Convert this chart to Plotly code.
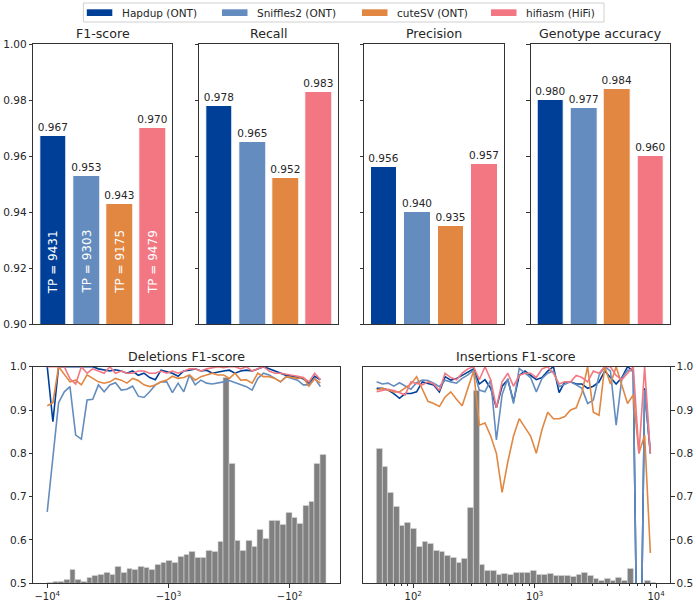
import plotly.graph_objects as go
import numpy as np

# ---- data ----
tools = ['Hapdup (ONT)', 'Sniffles2 (ONT)', 'cuteSV (ONT)', 'hifiasm (HiFi)']
colors = ['#003f98', '#648cbe', '#e18741', '#f27782']

f1_score = [0.967, 0.953, 0.943, 0.970]
recall = [0.978, 0.965, 0.952, 0.983]
precision = [0.956, 0.940, 0.935, 0.957]
gt_accuracy = [0.980, 0.977, 0.984, 0.960]
true_pos = [9431, 9303, 9175, 9479]

# SV length bins (bp), log spaced 50..10000
bin_edges = [50, 55.7, 62.1, 69.2, 77.1, 85.9, 95.7, 106.6, 118.8, 132.3, 147.4, 164.3,
             183.0, 203.9, 227.2, 253.2, 282.1, 314.3, 350.2, 390.2, 434.7, 484.4, 539.7,
             601.3, 670.0, 746.5, 831.8, 926.8, 1032.6, 1150.5, 1281.9, 1428.2, 1591.3,
             1773.0, 1975.5, 2201.1, 2452.5, 2732.6, 3044.6, 3392.3, 3779.7, 4211.3, 4692.2,
             5228.1, 5825.1, 6490.3, 7231.5, 8057.3, 8977.4, 10000]

# deletions, ordered from longest (-10^4) to shortest (-50)
del_hist = [0.003, 0.009, 0.009, 0.015, 0.062, 0.015, 0.009, 0.028, 0.035, 0.040,
            0.048, 0.039, 0.077, 0.051, 0.066, 0.062, 0.077, 0.074, 0.065, 0.085,
            0.094, 0.106, 0.097, 0.123, 0.133, 0.148, 0.117, 0.117, 0.151, 0.148,
            0.193, 0.950, 0.550, 0.197, 0.150, 0.198, 0.168, 0.249, 0.204, 0.289,
            0.287, 0.271, 0.325, 0.305, 0.275, 0.356, 0.378, 0.552, 0.592]
del_hapdup = [1.0, 0.873, 1.0, 1.0, 1.0, 1.0, 1.0, 1.0, 1.0, 0.995,
              0.992, 0.99, 0.993, 0.99, 0.985, 0.99, 0.98, 0.985, 0.975, 0.97,
              0.992, 0.988, 0.985, 0.978, 0.99, 0.992, 0.995, 0.99, 0.992, 0.985,
              0.988, 0.99, 0.992, 0.985, 0.99, 0.992, 0.99, 0.995, 1.0, 0.995,
              0.99, 0.985, 0.98, 0.978, 0.975, 0.972, 0.962, 0.978, 0.97]
del_sniffles = [0.665, 0.79, 0.917, 0.942, 0.954, 0.842, 0.833, 0.923, 0.925, 0.958,
                0.942, 0.958, 0.963, 0.946, 0.948, 0.955, 0.932, 0.929, 0.942, 0.958,
                0.965, 0.965, 0.94, 0.962, 0.942, 0.981, 0.958, 0.969, 0.962, 0.96,
                0.962, 0.965, 0.968, 0.963, 0.958, 0.954, 0.946, 0.973, 0.985, 0.981,
                0.973, 0.965, 0.977, 0.973, 0.969, 0.958, 0.958, 0.973, 0.954]
del_cutesv = [0.91, 0.917, 1.0, 0.981, 0.965, 0.969, 0.958, 0.981, 0.973, 0.965,
              0.962, 0.965, 0.973, 0.969, 0.962, 0.973, 0.968, 0.958, 0.954, 0.958,
              0.965, 0.969, 0.978, 0.973, 0.975, 0.981, 0.969, 0.977, 0.981, 0.985,
              0.981, 0.981, 0.973, 0.985, 0.969, 0.97, 0.962, 0.985, 0.977, 0.977,
              0.973, 0.965, 0.977, 0.975, 0.973, 0.975, 0.955, 0.972, 0.962]
del_hifiasm = [1.0, 1.0, 1.0, 1.0, 0.972, 0.96, 1.0, 0.985, 0.995, 0.99,
               0.985, 1.0, 0.985, 0.99, 0.985, 0.985, 0.99, 0.99, 0.985, 0.985,
               0.99, 0.985, 0.99, 0.985, 0.99, 0.995, 0.995, 0.99, 0.995, 0.998,
               1.0, 0.998, 1.0, 1.0, 0.995, 1.0, 0.99, 0.995, 1.0, 0.99,
               0.985, 0.985, 0.983, 0.98, 0.978, 0.975, 0.965, 0.985, 0.97]

# insertions, ordered from shortest (50) to longest (10^4)
ins_hist = [0.620, 0.540, 0.417, 0.352, 0.267, 0.278, 0.252, 0.170, 0.190, 0.182,
            0.151, 0.148, 0.128, 0.120, 0.097, 0.113, 0.349, 0.890, 0.085, 0.059,
            0.059, 0.040, 0.046, 0.039, 0.048, 0.049, 0.051, 0.056, 0.039, 0.042,
            0.046, 0.034, 0.034, 0.034, 0.032, 0.040, 0.049, 0.035, 0.019, 0.012,
            0.020, 0.012, 0.025, 0.012, 0.069, 0.0, 0.0, 0.011, 0.003]
ins_hapdup = [0.95, 0.95, 0.946, 0.938, 0.927, 0.938, 0.938, 0.942, 0.965, 0.962,
              0.958, 0.942, 0.977, 0.969, 0.973, 0.98, 0.988, 0.995, 0.96, 0.97,
              0.95, 0.905, 0.955, 0.97, 0.92, 0.98, 0.99, 0.98, 0.97, 0.975,
              0.99, 1.0, 0.94, 0.965, 0.965, 0.96, 0.96, 0.95, 0.955, 0.965,
              0.99, 0.975, 0.96, 0.975, 1.0, 0.99, 0.0, 0.95, 0.8]
ins_sniffles = [0.965, 0.96, 0.962, 0.955, 0.963, 0.955, 0.948, 0.963, 0.969, 0.968,
                0.962, 0.954, 0.969, 0.965, 0.962, 0.973, 0.981, 0.992, 0.946, 0.942,
                0.969, 0.831, 0.935, 0.973, 0.915, 0.996, 0.985, 0.975, 0.942, 0.973,
                0.985, 0.99, 0.954, 0.96, 0.965, 0.958, 0.95, 0.915, 0.923, 0.98,
                1.0, 0.99, 0.865, 0.973, 0.992, 0.99, 0.0, 0.946, 0.8]
ins_cutesv = [0.946, 0.95, 0.946, 0.942, 0.942, 0.95, 0.96, 0.977, 0.95, 0.92,
              0.915, 0.908, 0.93, 0.942, 0.925, 0.91, 0.95, 0.99, 0.865, 0.87,
              0.84, 0.8, 0.71, 0.78, 0.84, 0.88, 0.86, 0.84, 0.80, 0.855,
              0.895, 0.88, 0.88, 0.885, 0.9, 0.905, 0.94, 1.0, 0.895, 0.888,
              1.0, 0.96, 1.0, 0.96, 0.915, 0.935, 0.8, 0.842, 0.57]
ins_hifiasm = [0.942, 0.945, 0.948, 0.945, 0.94, 0.935, 0.965, 0.962, 0.958, 0.965,
               0.96, 0.945, 0.985, 0.975, 0.97, 0.985, 0.995, 1.0, 0.97, 1.0,
               0.97, 0.905, 0.965, 0.985, 0.955, 0.98, 0.985, 0.985, 0.975, 0.995,
               1.0, 0.985, 0.96, 0.965, 0.965, 0.98, 0.975, 0.965, 0.99, 0.985,
               1.0, 1.0, 0.98, 0.97, 0.985, 1.0, 0.8, 1.0, 0.8]

# ---- figure ----
W, H = 696, 602
FONT = 'DejaVu Sans'
TXT = '#262626'
AX = '#333333'


def px_x(a, b):
    return [a / W, b / W]


def px_y(top, bottom):
    return [1 - bottom / H, 1 - top / H]


def ax_id(n):
    # plotly calls the first axis 'x' / 'y', not 'x1'
    return '' if n == 1 else str(n)


fig = go.Figure()

top_panels = [('F1-score', f1_score), ('Recall', recall),
              ('Precision', precision), ('Genotype accuracy', gt_accuracy)]
top_x = [(33.3, 172.3), (199.3, 338.3), (364, 504), (530.7, 670)]
top_y = (44, 324)

for p, (title, vals) in enumerate(top_panels):
    s = ax_id(p + 1)
    for i, tool in enumerate(tools):
        fig.add_trace(go.Bar(
            x=[i], y=[vals[i]], name=tool, marker_color=colors[i],
            marker_line=dict(color='white', width=1), width=0.8,
            text=['{0:.3f}'.format(vals[i])], textposition='outside',
            textfont=dict(size=10.5, color=TXT, family=FONT), constraintext='none',
            cliponaxis=False, showlegend=False,
            xaxis='x' + s, yaxis='y' + s
        ))
    xa = dict(domain=px_x(*top_x[p]), range=[-0.6, 3.58], showticklabels=False, ticks='',
              showgrid=False, zeroline=False, showline=True, mirror=True, linecolor=AX,
              anchor='y' + s, fixedrange=True)
    ya = dict(domain=px_y(*top_y), range=[0.9, 1.0], tickvals=[0.90, 0.92, 0.94, 0.96, 0.98, 1.00],
              tickformat='.2f', ticks='outside', ticklen=3.5, tickcolor=AX, showgrid=False,
              zeroline=False, showline=True, mirror=True, linecolor=AX,
              showticklabels=(p == 0), anchor='x' + s,
              tickfont=dict(size=10.5, color=TXT, family=FONT))
    fig.update_layout({'xaxis' + s: xa, 'yaxis' + s: ya})
    fig.add_annotation(text=title, xref='x' + s + ' domain', yref='y' + s + ' domain',
                       x=0.5, y=1, yanchor='bottom', yshift=1, showarrow=False,
                       font=dict(size=12.6, color=TXT, family=FONT))

# TP counts inside the F1 bars
for i, tp in enumerate(true_pos):
    fig.add_annotation(text='TP = {0}'.format(tp), x=i, y=0.91, xref='x', yref='y',
                       textangle=-90, yanchor='bottom', showarrow=False,
                       font=dict(size=12, color='white', family=FONT))

# ---- legend drawn matplotlib style: wide patches in a box ----
legend_box = (83.4, 3, 604, 22)
legend_patch_x = [86.8, 222, 362, 491]
bx = px_x(legend_box[0], legend_box[2])
by = px_y(legend_box[1], legend_box[3])
fig.add_shape(type='rect', xref='paper', yref='paper', x0=bx[0], x1=bx[1], y0=by[0], y1=by[1],
              line=dict(color='#d0d0d0', width=1), fillcolor='white', layer='above')
for i, tool in enumerate(tools):
    x0 = legend_patch_x[i]
    sx = px_x(x0, x0 + 25.5)
    sy = px_y(9.3, 16)
    fig.add_shape(type='rect', xref='paper', yref='paper', x0=sx[0], x1=sx[1], y0=sy[0], y1=sy[1],
                  line=dict(width=0), fillcolor=colors[i], layer='above')
    fig.add_annotation(text=tool, xref='paper', yref='paper', x=px_x(x0 + 33, 0)[0],
                       y=px_y(12.6, 0)[1], xanchor='left', yanchor='middle', showarrow=False,
                       font=dict(size=10.5, color=TXT, family=FONT))

# ---- bottom panels: histogram (base axes) + F1 lines (overlay axes) ----
edges_log = np.log10(bin_edges)
centers_log = (edges_log[:-1] + edges_log[1:]) / 2
widths_log = edges_log[1:] - edges_log[:-1]
bot_y = (366.7, 583.3)
xlog_range = [1.584, 4.115]

# deletions: longest bin first
del_centers = centers_log[::-1]
del_widths = widths_log[::-1]
del_x = bin_edges[::-1][:-1]
ins_centers = centers_log
ins_widths = widths_log
ins_x = bin_edges[:-1]

bottom = [
    ('Deletions F1-score', (33.3, 340), del_centers, del_widths, del_hist, del_x,
     [del_hapdup, del_sniffles, del_cutesv, del_hifiasm], 5, 6, 'left', True),
    ('Insertions F1-score', (362.7, 670), ins_centers, ins_widths, ins_hist, ins_x,
     [ins_hapdup, ins_sniffles, ins_cutesv, ins_hifiasm], 7, 8, 'right', False),
]

for title, xdom, cen, wid, hist, lx, lines, nb, nl, side, is_del in bottom:
    fig.add_trace(go.Bar(
        x=cen, y=hist, width=wid, marker_color='#808080',
        marker_line=dict(color='#d9d9d9', width=0.6), showlegend=False,
        xaxis='x{0}'.format(nb), yaxis='y{0}'.format(nb)
    ))
    for i, ys in enumerate(lines):
        fig.add_trace(go.Scatter(
            x=lx, y=ys, mode='lines', line=dict(color=colors[i], width=1.6),
            showlegend=False, xaxis='x{0}'.format(nl), yaxis='y{0}'.format(nl)
        ))
    rng = xlog_range[::-1] if is_del else xlog_range
    hidden = dict(showticklabels=False, ticks='', showgrid=False, zeroline=False, showline=False)
    fig.update_layout({
        'xaxis{0}'.format(nb): dict(domain=px_x(*xdom), range=rng, anchor='y{0}'.format(nb), **hidden),
        'yaxis{0}'.format(nb): dict(domain=px_y(*bot_y), range=[0, 1], anchor='x{0}'.format(nb), **hidden),
    })
    if is_del:
        xt = dict(tickvals=[10000, 1000, 100],
                  ticktext=['\u221210<sup>4</sup>', '\u221210<sup>3</sup>', '\u221210<sup>2</sup>'])
    else:
        xt = dict(tickvals=[100, 1000, 10000],
                  ticktext=['10<sup>2</sup>', '10<sup>3</sup>', '10<sup>4</sup>'],
                  minor=dict(ticks='outside', ticklen=2, tickcolor=AX,
                             tickvals=[60, 70, 80, 90, 200, 300, 400, 500, 600, 700, 800, 900,
                                       2000, 3000, 4000, 5000, 6000, 7000, 8000, 9000]))
    fig.update_layout({
        'xaxis{0}'.format(nl): dict(type='log', range=rng, overlaying='x{0}'.format(nb),
                                    anchor='y{0}'.format(nl), ticks='outside', ticklen=3.5,
                                    tickcolor=AX, showgrid=False, zeroline=False, showline=True,
                                    mirror=True, linecolor=AX,
                                    tickfont=dict(size=10, color=TXT, family=FONT), **xt),
        'yaxis{0}'.format(nl): dict(range=[0.5, 1.0], overlaying='y{0}'.format(nb), side=side,
                                    anchor='x{0}'.format(nl), tickvals=[0.5, 0.6, 0.7, 0.8, 0.9, 1.0],
                                    tickformat='.1f', ticks='outside', ticklen=3.5, tickcolor=AX,
                                    showgrid=False, zeroline=False, showline=True, mirror=True,
                                    linecolor=AX, tickfont=dict(size=10.5, color=TXT, family=FONT)),
    })
    fig.add_annotation(text=title, xref='x{0} domain'.format(nl), yref='y{0} domain'.format(nl),
                       x=0.5, y=1, yanchor='bottom', yshift=1, showarrow=False,
                       font=dict(size=12.6, color=TXT, family=FONT))

fig.update_layout(
    width=W, height=H, autosize=False,
    margin=dict(l=0, r=0, t=0, b=0, autoexpand=False),
    paper_bgcolor='white', plot_bgcolor='white',
    barmode='overlay', bargap=0, showlegend=False,
    font=dict(family=FONT, color=TXT, size=10.5),
)

# the default page body has an 8px margin; drop it so the figure sits at the window corner
fig.write_html('out.html', config={'displayModeBar': False},
               post_script="document.body.style.margin = '0px';")
